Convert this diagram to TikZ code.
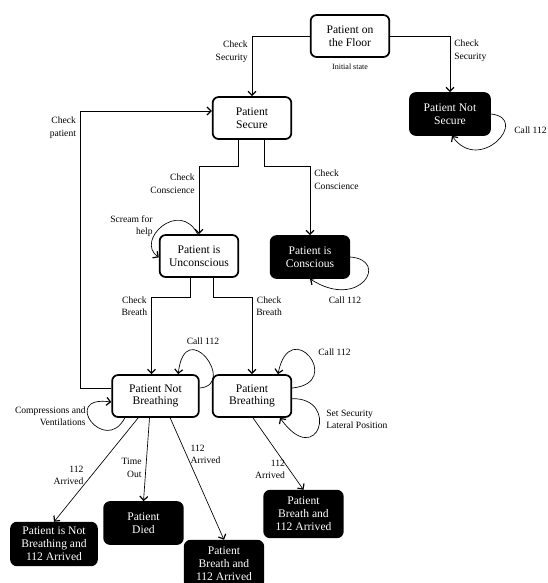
\documentclass[tikz,border=0pt]{standalone}
\usepackage{fontspec}
\setmainfont{Liberation Serif}
\usetikzlibrary{arrows.meta}
\newcommand{\statefont}{\fontsize{8.7}{9.6}\selectfont}
\newcommand{\transfont}{\fontsize{7.2}{9.2}\selectfont}
\tikzstyle{state white}=[draw, line width=1.3pt, rounded corners=4.5pt, fill=white, align=center, minimum width=59pt, minimum height=31.5pt, inner sep=2pt, font=\statefont]
\tikzstyle{state black}=[state white, fill=black, text=white]
\tikzstyle{trans}=[inner sep=3pt, align=center, font=\transfont]

\begin{document}
\begin{tikzpicture}[>={Straight Barb[length=3pt,width=6pt,line width=0.9pt]},x=0.75pt,y=-0.75pt,line width=0.5pt]
    \useasboundingbox (0,0) rectangle (548,583);

    % States
    \draw (350,36) node[state white] (floor) {Patient on\\the Floor};
    \draw (350,67) node[trans, font=\fontsize{6}{7}\selectfont] (init) {Initial state};
    \draw (252,118) node[state white] (secure) {Patient\\Secure};
    \draw (450,114) node[state black, minimum width=60pt] (notsecure) {Patient Not\\Secure};
    \draw (199,256) node[state white] (uncons) {Patient is\\Unconscious};
    \draw (310,257) node[state black] (cons) {Patient is\\Conscious};
    \draw (155.5,396) node[state white, minimum width=65pt] (notbreath) {Patient Not\\Breathing};
    \draw (252,396) node[state white] (breath) {Patient\\Breathing};
    \draw (54,544) node[state black, minimum width=64.5pt, minimum height=32pt] (nb112) {Patient is Not\\Breathing and\\112 Arrived};
    \draw (143.5,523) node[state black] (died) {Patient\\Died};
    \draw (224,564) node[state black, minimum height=35pt] (pba) {Patient\\Breath and\\112 Arrived};
    \draw (303.5,514) node[state black, minimum height=35pt] (pbb) {Patient\\Breath and\\112 Arrived};

    % Transitions
    \draw[->] (floor.west) -| node[trans, pos=.63, left, align=right] (t1) {Check\\Security} (secure.north);
    \draw[->] (floor.east) -| node[trans, pos=.63, right, align=left] (t2) {Check\\Security} (notsecure.north);
    \draw[->] ([xshift=-10.5pt]secure.south) -- ++(0,26) -| node[trans, pos=.63, left, align=right] (t3) {Check\\Conscience} (uncons.north);
    \draw[->] ([xshift=9pt]secure.south) -- ++(0,26) -| node[trans, pos=.6, right, align=left] (t4) {Check\\Conscience} (cons.north);
    \draw[->] ([xshift=-6.75pt]uncons.south) -- ++(0,19) -| node[trans, pos=.56, left] (t5) {Check\\Breath} ([xshift=-3pt]notbreath.north);
    \draw[->] ([xshift=10.5pt]uncons.south) -- ++(0,19) -| node[trans, pos=.56, right] (t6) {Check\\Breath} (breath.north);
    \draw[->] ([yshift=6pt]notbreath.west) -- ++(-31,0) |- node[trans, pos=.47, left, align=right] (t7) {Check\\patient} ([yshift=5.25pt]secure.west);
    \draw[->] ([xshift=-13pt]notbreath.south) -- node[trans, pos=.55, left, xshift=-3pt, align=right] (t8) {112\\Arrived} (nb112.north);
    \draw[->] ([xshift=-4.5pt]notbreath.south) -- node[trans, pos=.6, left, align=right] (t9) {Time\\Out} (died.north);
    \draw[->] ([xshift=11pt]notbreath.south) -- node[trans, pos=.3, right, align=left] (t10) {112\\Arrived} (pba.north);
    \draw[->] ([xshift=0.75pt]breath.south) -- node[trans, pos=.72, left, align=right] (t11) {112\\Arrived} (pbb.north);

    % Loops
    \draw[->] (notsecure.east) .. controls +(40,4) and +(28,39) .. ([xshift=1.5pt]notsecure.south);
    \draw[->] (cons.east) .. controls +(40,3) and +(50,32) .. (cons.south);
    \draw[->] ([xshift=-1pt]uncons.north) .. controls +(-18,-35.5) and +(-24,-17) .. ([yshift=-1pt]uncons.west);
    \draw[->] ([yshift=6pt]notbreath.east) .. controls +(38,-3) and +(7,-60) .. ([xshift=17pt]notbreath.north);
    \draw[->] ([yshift=6pt]breath.east) .. controls +(53,-5) and +(12,-60) .. ([xshift=19.5pt]breath.north);
    \draw[->] ([yshift=-2pt]breath.east) .. controls +(48,-1) and +(38,53) .. ([xshift=21pt]breath.south);
    \draw[->] ([xshift=-23pt]notbreath.south) .. controls +(-20,38) and +(-51.5,-7) .. ([yshift=-4.5pt]notbreath.west);

    % Loop labels
    \draw (510,130) node[trans, anchor=west] (c1) {Call 112};
    \draw (345,300) node[trans] (c2) {Call 112};
    \draw (157,226) node[trans, anchor=east, align=right] (scream) {Scream for\\help};
    \draw (203,341) node[trans] (c3) {Call 112};
    \draw (314,352) node[trans, anchor=west] (c4) {Call 112};
    \draw (322,419) node[trans, anchor=west, align=left] (lateral) {Set Security\\Lateral Position};
    \draw (90,416.5) node[trans, anchor=east, align=right] (comp) {Compressions and\\Ventilations};

\end{tikzpicture}
\end{document}
